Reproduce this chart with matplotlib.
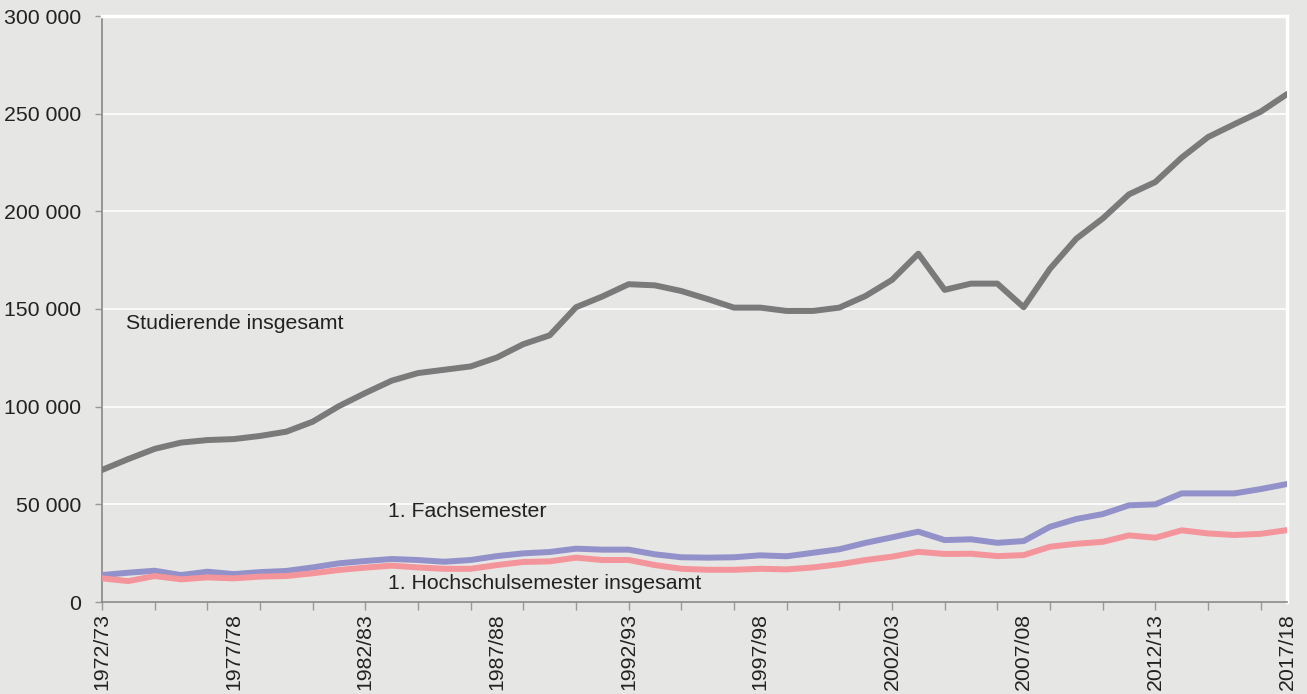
import matplotlib
matplotlib.use("Agg")
import matplotlib.pyplot as plt
from matplotlib.ticker import FuncFormatter

### Data, values in persons
semesters = [f"{y}/{str(y + 1)[-2:]}" for y in range(1972, 2018)]

studierende = [67600, 73200, 78400, 81600, 82900, 83400, 85000, 87200, 92300, 100300,
               107000, 113300, 117200, 118900, 120600, 125200, 132000, 136500, 150900, 156400,
               162700, 162100, 159200, 155100, 150700, 150700, 149000, 149000, 150700, 156700,
               164900, 178300, 159800, 163000, 163000, 150900, 170600, 186000, 196300, 208700,
               215000, 227500, 238000, 244600, 251000, 260000]

fachsemester = [13800, 15000, 16000, 13800, 15500, 14300, 15300, 15900, 17700, 19800,
                21000, 22000, 21500, 20600, 21500, 23500, 24900, 25600, 27300, 26800,
                26800, 24400, 22900, 22700, 22900, 23900, 23400, 25200, 27000, 30300,
                33100, 36000, 31700, 32100, 30300, 31200, 38500, 42500, 45000, 49500,
                50000, 55600, 55600, 55600, 57800, 60400]

hochschulsemester = [12100, 10700, 13300, 11600, 12600, 12100, 13000, 13300, 14700, 16400,
                     17600, 18600, 17700, 17000, 17000, 18900, 20500, 20800, 22700, 21500,
                     21500, 18900, 17000, 16500, 16500, 17000, 16700, 17700, 19300, 21500,
                     23200, 25700, 24600, 24700, 23500, 24000, 28300, 29800, 30800, 34100,
                     32900, 36700, 35100, 34300, 34900, 36800]

y_ticks = [0, 50000, 100000, 150000, 200000, 250000, 300000]

bg = "#e6e6e4"
txt = "#222222"
fs = 15.3
plt.rcParams['font.family'] = ['Liberation Sans', 'DejaVu Sans']

fig = plt.figure(figsize=(13.07, 6.94), dpi=100, facecolor=bg)
ax = fig.add_axes([102 / 1307, 1 - 602 / 694, 1185 / 1307, 586 / 694])
ax.set_facecolor(bg)

x = list(range(len(semesters)))
ax.plot(x, studierende, color="#7a7a7a", lw=4.3, solid_capstyle="round", zorder=3)
ax.plot(x, fachsemester, color="#9391c9", lw=4.3, solid_capstyle="round", zorder=3)
ax.plot(x, hochschulsemester, color="#f4959b", lw=4.3, solid_capstyle="round", zorder=4)

ax.set_xlim(0, len(semesters) - 1)
ax.set_ylim(0, 300000)

### y axis
ax.set_yticks(y_ticks)
ax.yaxis.set_major_formatter(FuncFormatter(lambda v, p: f"{int(v):,}".replace(",", " ")))
ax.tick_params(axis="y", direction="out", length=5, width=1, color="#999999",
               labelsize=fs, labelcolor=txt, pad=10)
ax.yaxis.grid(True, color="white", lw=1.2)
ax.set_axisbelow(True)

### x axis: small ticks every 2 years, labels every 5 years
ax.xaxis.remove_overlapping_locs = False
ax.set_xticks(x[::2])
ax.set_xticklabels([])
ax.set_xticks(x[::5], minor=True)
ax.set_xticklabels(semesters[::5], minor=True, rotation=90, fontsize=fs, color=txt)
ax.tick_params(axis="x", which="major", direction="out", length=6, width=1, color="#999999")
ax.tick_params(axis="x", which="minor", length=0, pad=8)

for s in ["left", "bottom"]:
    ax.spines[s].set_color("#888888")
    ax.spines[s].set_linewidth(1.2)
for s in ["top", "right"]:
    ax.spines[s].set_color("white")
    ax.spines[s].set_linewidth(2.5)

### series labels
ax.text(0.91, 142600, "Studierende insgesamt", fontsize=fs, color=txt, va="center", ha="left")
ax.text(10.86, 46400, "1. Fachsemester", fontsize=fs, color=txt, va="center", ha="left")
ax.text(10.86, 9600, "1. Hochschulsemester insgesamt", fontsize=fs, color=txt, va="center", ha="left")

fig.savefig("out.png", dpi=100, facecolor=bg)
